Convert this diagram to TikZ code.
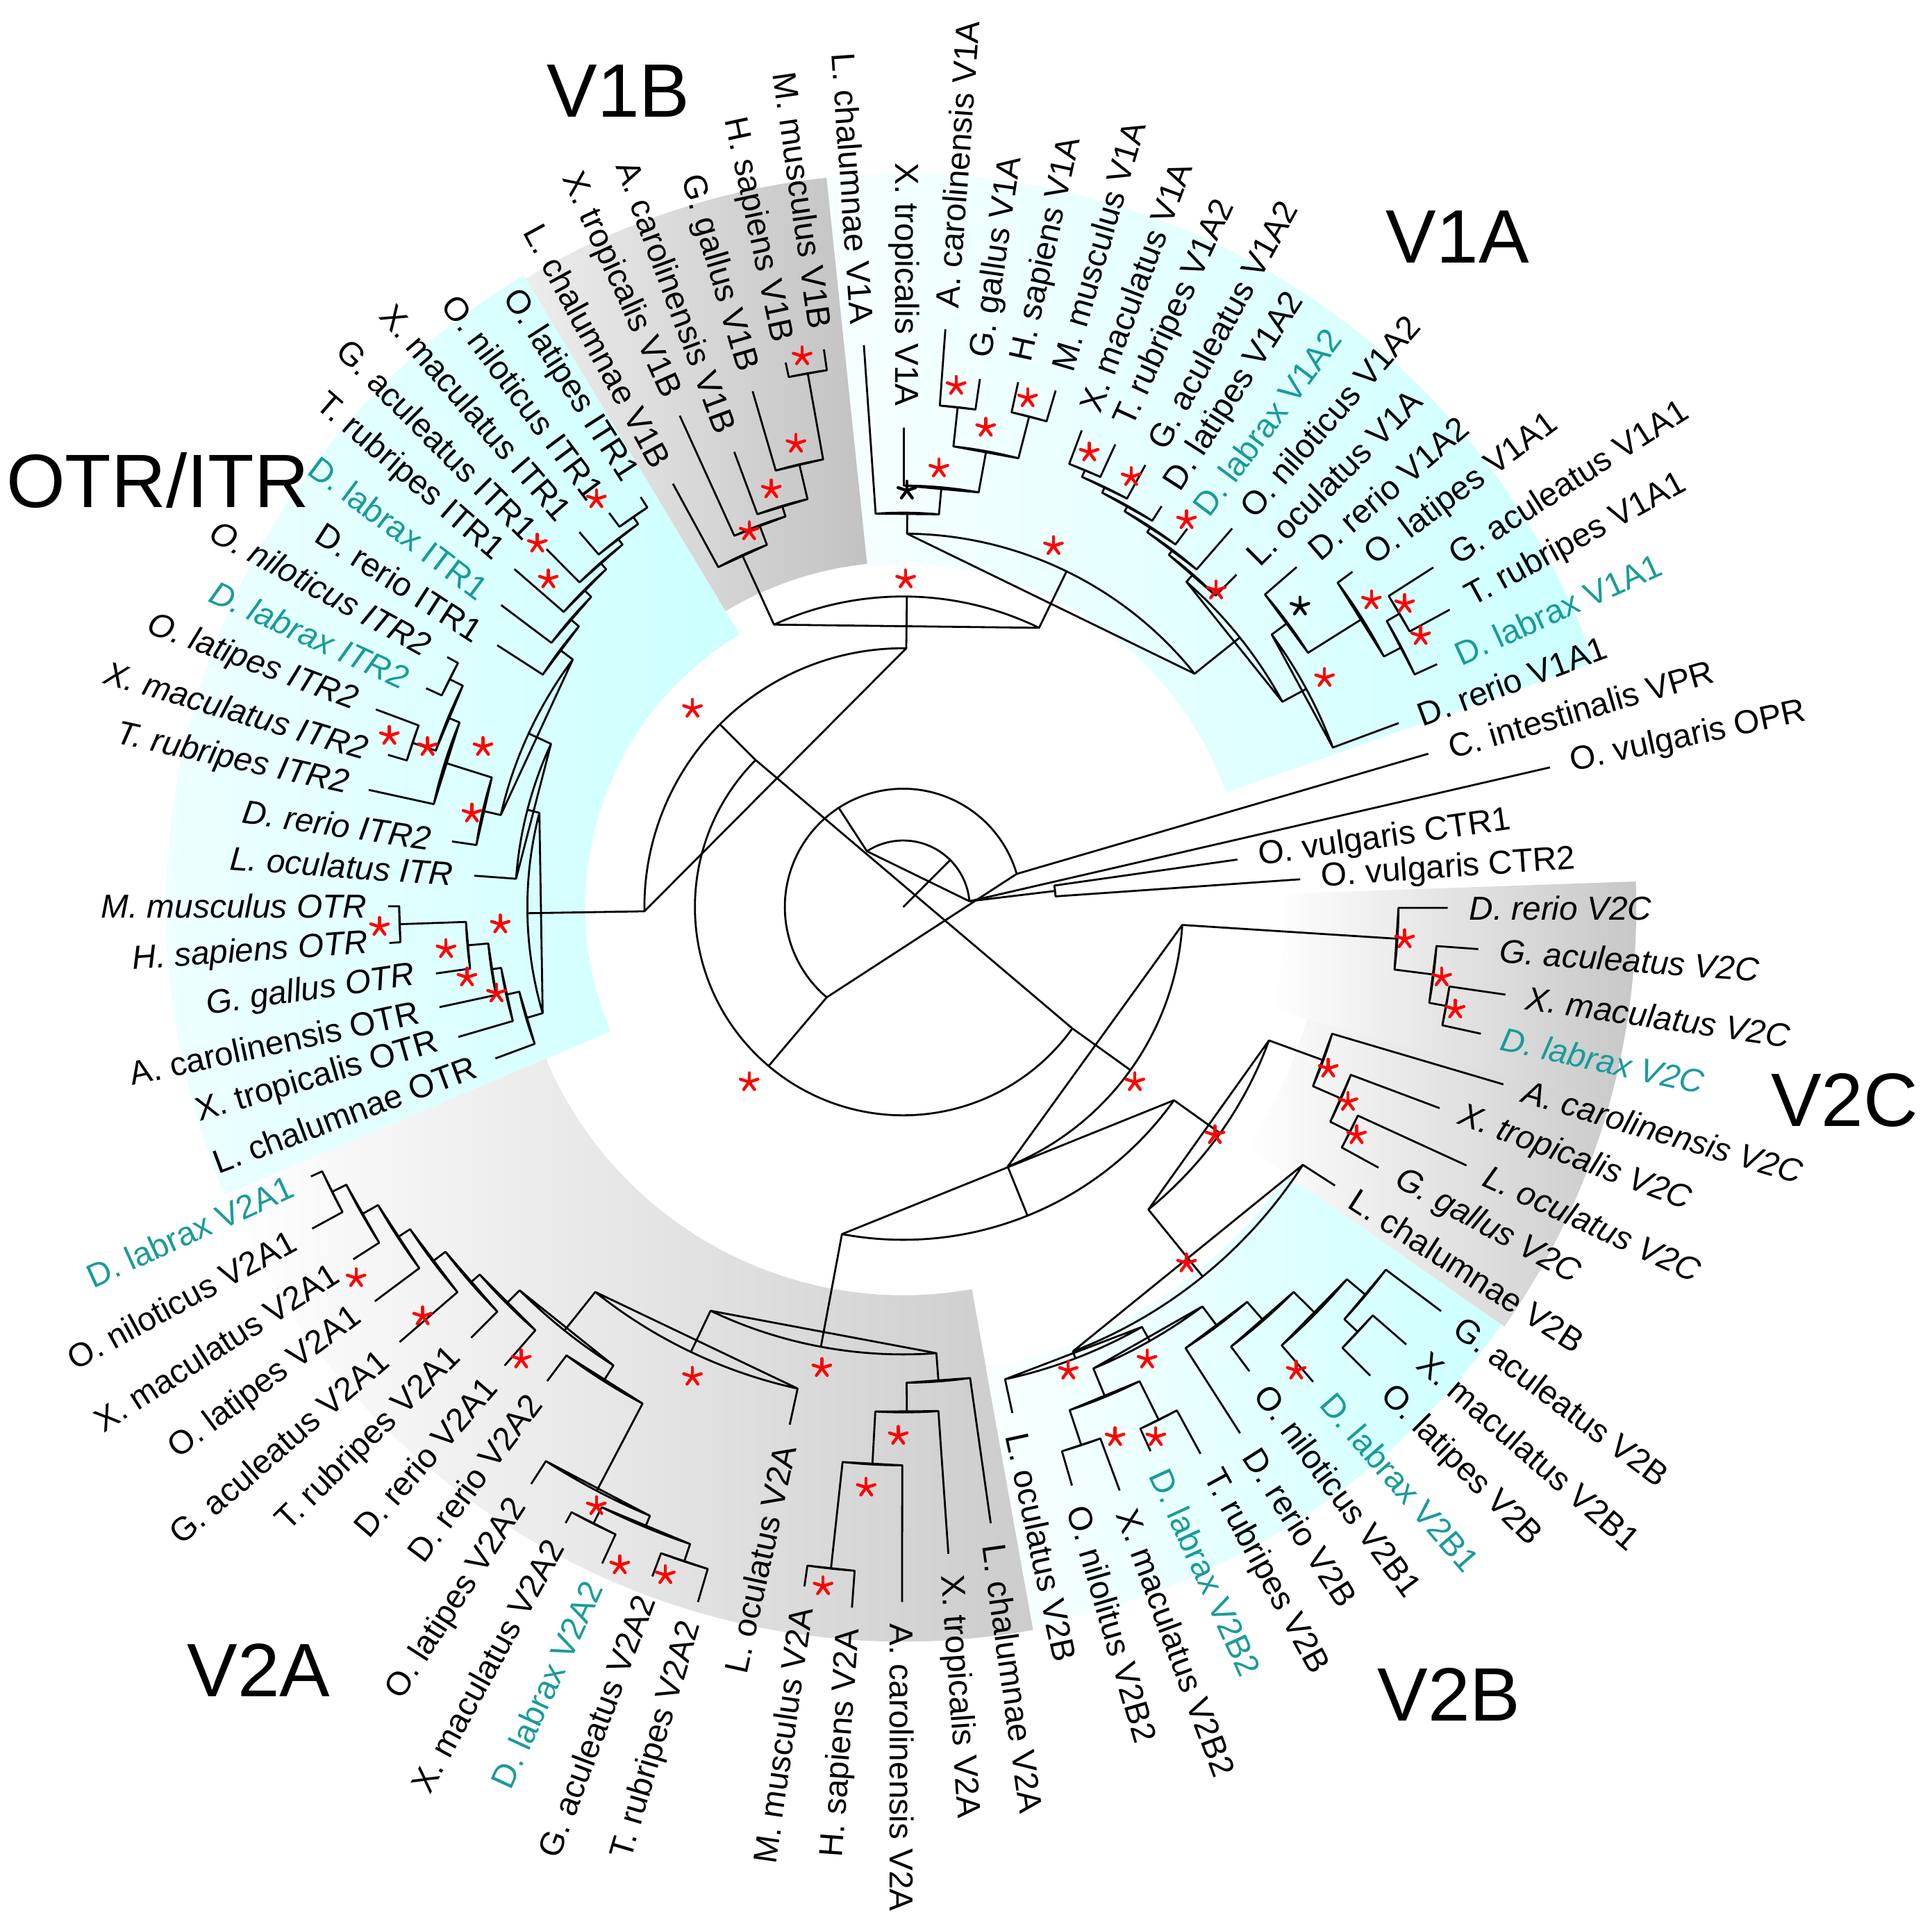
\documentclass[tikz,border=0pt]{standalone}
\usepackage{fontspec}
\setmainfont{Liberation Sans}
\definecolor{cyanL}{HTML}{CCFFFF}
\definecolor{labx}{RGB}{25,155,155}
\newcommand\tn[3]{\draw[br] (#1:#3) arc[start angle=#1, end angle=#2, radius=#3*0.017742cm] -- cycle;}
\newcommand\nd[5]{\draw[br] (#1:#2) -- (#1:#3); \tn{#4}{#5}{#3}}
\newcommand\lf[6]{%
  \pgfmathsetmacro\la{4+(#1-1)*4.0909091}%
  \draw[br] (\la:#2) -- (\la:#3);%
  \pgfmathsetmacro\lr{#3+17}%
  \pgfmathtruncatemacro\side{(\la<88 || \la>=268) ? 1 : 0}%
  \ifnum\side=1
    \node[lab,text=#5,rotate=\la,anchor=west] at (\la:\lr) {#6#4};%
  \else
    \pgfmathsetmacro\rr{\la-180}%
    \node[lab,text=#5,rotate=\rr,anchor=east] at (\la:\lr) {#6#4};%
  \fi}
\newcommand\wdg[6]{\shade[left color=#5,right color=#6] (#1:#3) arc[start angle=#1,end angle=#2,radius=#3*0.017742cm] -- (#2:#4) arc[start angle=#2,end angle=#1,radius=#4*0.017742cm] -- cycle;}
\newcommand\mystar[3]{\foreach \aa in {-90,-18,54,126,198}{\draw[#1,line width=1.25pt,line cap=round] (#2,#3) -- ++(\aa:7.5);}}
\begin{document}
\begin{tikzpicture}[x=0.017742cm,y=0.017742cm,
  br/.style={line width=0.8pt,line join=round},
  lab/.style={font=\fontsize{13.6}{16}\selectfont,inner sep=0pt},
  big/.style={font=\fontsize{31}{36}\selectfont,inner sep=0pt}]
\useasboundingbox (-733,-823) rectangle (835,736);
% ---------- shaded wedges
\wdg{19.5}{96}{278}{595}{cyanL!15}{cyanL}
\wdg{96}{121}{280}{595}{black!7}{black!24}
\wdg{121}{203}{258}{598}{cyanL!25}{cyanL}
\wdg{203}{280.2}{315}{596}{white}{black!20}
\wdg{280.2}{325.1}{380}{592}{cyanL!10}{cyanL}
\wdg{325.1}{344.5}{340}{595}{white}{black!20}
\wdg{344.5}{362}{310}{595}{white}{black!22}
% ---------- centre skeleton
\draw[br] (0,0) -- (45:54);
\tn{5}{123.0}{54}
\draw[br] (5:54) -- (12.182:537);
\draw[br] (5:54) -- (6.05:124);
\tn{4}{8.091}{124}
\nd{123.0}{54}{96}{16.273}{229.75}
\nd{229.75}{96}{169}{135.1}{324.35}
\nd{135.1}{169}{210}{89.31}{180.94}
\nd{324.35}{169}{227}{291.95}{356.33}
% ---------- V1
\nd{89.31}{210}{252}{64.04}{114.58}
\nd{64.04}{252}{303}{38.68}{89.4}
\nd{38.68}{303}{350}{28.42}{48.93}
\nd{28.42}{350}{372}{20.364}{36.47}
\nd{36.47}{372}{388}{32.12}{40.818}
\nd{32.12}{388}{440}{27.52}{36.727}
\nd{27.52}{440}{456}{24.455}{30.59}
\nd{30.59}{456}{468}{28.545}{32.636}
\nd{48.93}{350}{358}{44.909}{52.96}
\nd{52.96}{358}{363}{49}{56.93}
\nd{56.93}{363}{368}{53.091}{60.76}
\nd{60.76}{368}{373}{57.182}{64.34}
\nd{64.34}{373}{378}{61.273}{67.41}
\nd{67.41}{378}{384}{65.364}{69.455}
\nd{89.4}{303}{320}{84.79}{94}
\nd{84.79}{320}{342}{79.68}{89.909}
\nd{79.68}{342}{376}{75.59}{83.77}
\nd{83.77}{376}{408}{81.727}{85.818}
\nd{75.59}{376}{411}{73.545}{77.636}
\nd{114.58}{252}{314}{110.62}{118.545}
\nd{110.62}{314}{331}{106.78}{114.455}
\nd{106.78}{331}{340}{103.2}{110.364}
\nd{103.2}{340}{369}{100.14}{106.273}
\nd{100.14}{369}{440}{98.091}{102.182}
% ---------- OTR / ITR
\nd{180.94}{210}{305}{165.48}{196.4}
\nd{165.48}{305}{315}{155.14}{175.818}
\nd{155.14}{315}{335}{143.16}{167.12}
\nd{143.16}{335}{348}{139.13}{147.182}
\nd{139.13}{348}{357}{135.17}{143.091}
\nd{135.17}{357}{365}{131.33}{139}
\nd{131.33}{365}{372}{127.75}{134.909}
\nd{127.75}{372}{378}{124.68}{130.818}
\nd{124.68}{378}{385}{122.636}{126.727}
\nd{167.12}{335}{350}{162.52}{171.727}
\nd{162.52}{350}{390}{157.41}{167.636}
\nd{157.41}{390}{400}{153.32}{161.5}
\nd{153.32}{400}{412}{151.273}{155.364}
\nd{161.5}{400}{420}{159.455}{163.545}
\nd{196.4}{305}{319}{192.44}{200.364}
\nd{192.44}{319}{330}{188.6}{196.273}
\nd{188.6}{330}{338}{185.02}{192.182}
\nd{185.02}{338}{355}{181.95}{188.091}
\nd{181.95}{355}{409}{179.909}{184}
% ---------- V2C a
\nd{356.33}{227}{402}{352.75}{359.909}
\nd{352.75}{402}{434}{349.682}{355.818}
\nd{349.682}{434}{448}{347.636}{351.727}
% ---------- V2
\nd{291.95}{227}{270}{259.4}{324.5}
\nd{324.5}{270}{316}{309.04}{339.97}
\nd{339.97}{316}{363}{336.39}{343.545}
\nd{336.39}{363}{388}{333.32}{339.455}
\nd{333.32}{388}{406}{331.273}{335.364}
\nd{309.04}{316}{386}{290.9}{327.182}
\nd{290.9}{386}{392}{282.182}{299.63}
\nd{299.63}{392}{405}{292.41}{306.85}
\nd{292.41}{405}{430}{288.32}{296.5}
\nd{288.32}{430}{460}{286.273}{290.364}
\nd{296.5}{430}{465}{294.455}{298.545}
\nd{306.85}{405}{425}{302.636}{311.07}
\nd{311.07}{425}{445}{306.727}{315.42}
\nd{315.42}{445}{470}{310.818}{320.02}
\nd{320.02}{470}{490}{316.95}{323.091}
\nd{316.95}{490}{505}{314.909}{319}
\nd{259.4}{270}{363}{244.49}{274.26}
\nd{274.26}{363}{386}{270.42}{278.091}
\nd{270.42}{386}{410}{266.84}{274}
\nd{266.84}{410}{453}{263.77}{269.909}
\nd{263.77}{453}{540}{261.727}{265.818}
\nd{244.49}{363}{400}{231.34}{257.636}
\nd{231.34}{400}{440}{224.98}{237.7}
\nd{224.98}{440}{455}{220.95}{229}
\nd{220.95}{455}{465}{216.98}{224.909}
\nd{216.98}{465}{478}{213.15}{220.818}
\nd{213.15}{478}{490}{209.57}{216.727}
\nd{209.57}{490}{505}{206.5}{212.636}
\nd{206.5}{505}{518}{204.455}{208.545}
\nd{237.7}{440}{455}{233.091}{242.3}
\nd{242.3}{455}{535}{237.182}{247.41}
\nd{247.41}{535}{545}{243.32}{251.5}
\nd{243.32}{545}{560}{241.273}{245.364}
\nd{251.5}{545}{560}{249.455}{253.545}
% ---------- leaves
\lf{1}{124}{323}{O. vulgaris CTR2}{black}{\upshape}
\lf{2}{124}{274}{O. vulgaris CTR1}{black}{\upshape}
\lf{3}{537}{537}{O. vulgaris OPR}{black}{\upshape}
\lf{4}{96}{444}{C. intestinalis VPR}{black}{\upshape}
\lf{5}{372}{429}{D. rerio V1A1}{black}{\upshape}
\lf{6}{456}{476}{D. labrax V1A1}{labx}{\upshape}
\lf{7}{468}{505}{T. rubripes V1A1}{black}{\upshape}
\lf{8}{468}{511}{G. aculeatus V1A1}{black}{\upshape}
\lf{9}{440}{455}{O. latipes V1A1}{black}{\upshape}
\lf{10}{388}{422}{D. rerio V1A2}{black}{\upshape}
\lf{11}{358}{382}{L. oculatus V1A}{black}{\upshape}
\lf{12}{363}{407}{O. niloticus V1A2}{black}{\upshape}
\lf{13}{368}{384}{D. labrax V1A2}{labx}{\upshape}
\lf{14}{373}{387}{D. latipes V1A2}{black}{\upshape}
\lf{15}{378}{409}{G. aculeatus V1A2}{black}{\upshape}
\lf{16}{384}{413}{T. rubripes V1A2}{black}{\upshape}
\lf{17}{384}{413}{X. maculatus V1A}{black}{\upshape}
\lf{18}{411}{437}{M. musculus V1A}{black}{\upshape}
\lf{19}{411}{436}{H. sapiens V1A}{black}{\upshape}
\lf{20}{408}{433}{G. gallus V1A}{black}{\upshape}
\lf{21}{408}{470}{A. carolinensis V1A}{black}{\upshape}
\lf{22}{342}{389}{X. tropicalis V1A}{black}{\upshape}
\lf{23}{320}{457}{L. chalumnae V1A}{black}{\upshape}
\lf{24}{440}{457}{M. musculus V1B}{black}{\upshape}
\lf{25}{440}{452}{H. sapiens V1B}{black}{\upshape}
\lf{26}{369}{436}{G. gallus V1B}{black}{\upshape}
\lf{27}{340}{394}{A. carolinensis V1B}{black}{\upshape}
\lf{28}{331}{438}{X. tropicalis V1B}{black}{\upshape}
\lf{29}{314}{391}{L. chalumnae V1B}{black}{\upshape}
\lf{30}{385}{395}{O. latipes ITR1}{black}{\upshape}
\lf{31}{385}{399}{O. niloticus ITR1}{black}{\upshape}
\lf{32}{378}{402}{X. maculatus ITR1}{black}{\upshape}
\lf{33}{372}{410}{G. aculeatus ITR1}{black}{\upshape}
\lf{34}{365}{418}{T. rubripes ITR1}{black}{\upshape}
\lf{35}{357}{408}{D. labrax ITR1}{labx}{\upshape}
\lf{36}{348}{392}{D. rerio ITR1}{black}{\upshape}
\lf{37}{412}{422}{O. niloticus ITR2}{black}{\itshape}
\lf{38}{412}{426}{D. labrax ITR2}{labx}{\itshape}
\lf{39}{420}{457}{O. latipes ITR2}{black}{\itshape}
\lf{40}{420}{436}{X. maculatus ITR2}{black}{\itshape}
\lf{41}{390}{444}{T. rubripes ITR2}{black}{\itshape}
\lf{42}{350}{370}{D. rerio ITR2}{black}{\itshape}
\lf{43}{315}{349}{L. oculatus ITR}{black}{\itshape}
\lf{44}{409}{418}{M. musculus OTR}{black}{\itshape}
\lf{45}{409}{418}{H. sapiens OTR}{black}{\itshape}
\lf{46}{355}{383}{G. gallus OTR}{black}{\itshape}
\lf{47}{338}{385}{A. carolinensis OTR}{black}{\upshape}
\lf{48}{330}{376}{X. tropicalis OTR}{black}{\upshape}
\lf{49}{319}{353}{L. chalumnae OTR}{black}{\upshape}
\lf{50}{518}{528}{D. labrax V2A1}{labx}{\upshape}
\lf{51}{518}{546}{O. niloticus V2A1}{black}{\upshape}
\lf{52}{505}{530}{X. maculatus V2A1}{black}{\upshape}
\lf{53}{490}{535}{O. latipes V2A1}{black}{\upshape}
\lf{54}{478}{540}{G. aculeatus V2A1}{black}{\upshape}
\lf{55}{465}{495}{T. rubripes V2A1}{black}{\upshape}
\lf{56}{455}{493}{D. rerio V2A1}{black}{\upshape}
\lf{57}{455}{481}{D. rerio V2A2}{black}{\upshape}
\lf{58}{535}{557}{O. latipes V2A2}{black}{\upshape}
\lf{59}{560}{570}{X. maculatus V2A2}{black}{\upshape}
\lf{60}{560}{586}{D. labrax V2A2}{labx}{\upshape}
\lf{61}{560}{580}{G. aculeatus V2A2}{black}{\upshape}
\lf{62}{560}{588}{T. rubripes V2A2}{black}{\upshape}
\lf{63}{400}{430}{L. oculatus V2A}{black}{\upshape}
\lf{64}{540}{557}{M. musculus V2A}{black}{\upshape}
\lf{65}{540}{570}{H. sapiens V2A}{black}{\upshape}
\lf{66}{453}{564}{A. carolinensis V2A}{black}{\upshape}
\lf{67}{410}{526}{X. tropicalis V2A}{black}{\upshape}
\lf{68}{386}{505}{L. chalumnae V2A}{black}{\upshape}
\lf{69}{392}{420}{L. oculatus V2B}{black}{\upshape}
\lf{70}{460}{489}{O. nilolitus V2B2}{black}{\upshape}
\lf{71}{460}{505}{X. maculatus V2B2}{black}{\upshape}
\lf{72}{465}{485}{D. labrax V2B2}{labx}{\upshape}
\lf{73}{465}{505}{T. rubripes V2B}{black}{\upshape}
\lf{74}{425}{507}{D. rerio V2B}{black}{\upshape}
\lf{75}{445}{470}{O. niloticus V2B1}{black}{\upshape}
\lf{76}{470}{509}{D. labrax V2B1}{labx}{\upshape}
\lf{77}{505}{537}{O. latipes V2B}{black}{\upshape}
\lf{78}{505}{541}{X. maculatus V2B1}{black}{\upshape}
\lf{79}{490}{546}{G. aculeatus V2B}{black}{\upshape}
\lf{80}{386}{417}{L. chalumnae V2B}{black}{\upshape}
\lf{81}{406}{440}{G. gallus V2C}{black}{\itshape}
\lf{82}{406}{503}{L. oculatus V2C}{black}{\itshape}
\lf{83}{388}{465}{X. tropicalis V2C}{black}{\itshape}
\lf{84}{363}{508}{A. carolinensis V2C}{black}{\itshape}
\lf{85}{448}{480}{D. labrax V2C}{labx}{\itshape}
\lf{86}{448}{494}{X. maculatus V2C}{black}{\itshape}
\lf{87}{434}{468}{G. aculeatus V2C}{black}{\itshape}
\lf{88}{402}{442}{D. rerio V2C}{black}{\itshape}
% ---------- support stars (reference pixel positions)
\begin{scope}[shift={(-733,736)},yscale=-1]
\foreach \x/\y in {651/289,646/360,626/397,608/431,776/313,834/323,800/347,762/380,884/367,918/387,963/422,855/443,735/470,987/479,1113/487,1140/490,1153/516,1075/550,484/405,436/441,445/470,316/597,347/606,392/606,383/660,562/575,608/878,921/878,406/750,308/752,362/770,379/793,403/806,1140/762,1170/793,1181/819,1078/867,1094/894,1101/921,986/921,963/1025,867/1112,931/1103,905/1166,938/1166,1052/1112,289/1037,343/1068,423/1103,562/1117,667/1110,484/1222,503/1270,540/1278,729/1165,703/1207,668/1287}{\mystar{red}{\x}{\y}}
\foreach \x/\y in {736/398,1055/492}{\mystar{black}{\x}{\y}}
\end{scope}
% ---------- clade labels
\node[big] at (-231,662) {V1B};
\node[big] at (450,544) {V1A};
\node[big] at (-605,346) {OTR/ITR};
\node[big] at (764,-157) {V2C};
\node[big] at (-523,-619) {V2A};
\node[big] at (443,-639) {V2B};
\end{tikzpicture}
\end{document}
